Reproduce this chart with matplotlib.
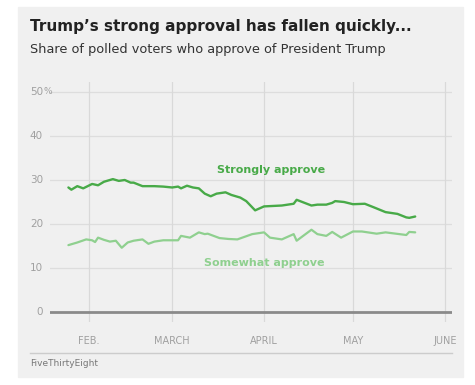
import matplotlib
matplotlib.use("Agg")
import matplotlib.pyplot as plt
from matplotlib.patches import Rectangle
import pandas as pd

# strongly approve
strong_dates = ["2018-01-25", "2018-01-26", "2018-01-28", "2018-01-30", "2018-02-02",
                "2018-02-04", "2018-02-06", "2018-02-09", "2018-02-11", "2018-02-13",
                "2018-02-15", "2018-02-16", "2018-02-19", "2018-02-23", "2018-02-26",
                "2018-03-01", "2018-03-03", "2018-03-04", "2018-03-06", "2018-03-08",
                "2018-03-10", "2018-03-12", "2018-03-14", "2018-03-16", "2018-03-19",
                "2018-03-21", "2018-03-24", "2018-03-26", "2018-03-29", "2018-04-01",
                "2018-04-07", "2018-04-11", "2018-04-12", "2018-04-17", "2018-04-19",
                "2018-04-22", "2018-04-24", "2018-04-25", "2018-04-28", "2018-05-01",
                "2018-05-05", "2018-05-08", "2018-05-12", "2018-05-16", "2018-05-19",
                "2018-05-20", "2018-05-22"]
strong_vals = [28.3, 27.8, 28.6, 28.1, 29.1,
               28.8, 29.6, 30.2, 29.8, 30.0,
               29.4, 29.4, 28.6, 28.6, 28.5,
               28.3, 28.5, 28.1, 28.7, 28.3,
               28.1, 26.9, 26.3, 26.9, 27.2,
               26.6, 26.0, 25.2, 23.1, 24.0,
               24.2, 24.6, 25.5, 24.2, 24.4,
               24.4, 24.8, 25.2, 25.0, 24.5,
               24.6, 23.8, 22.7, 22.3, 21.5,
               21.4, 21.7]

# somewhat approve
some_dates = ["2018-01-25", "2018-01-28", "2018-01-31", "2018-02-02", "2018-02-03",
              "2018-02-04", "2018-02-06", "2018-02-08", "2018-02-10", "2018-02-12",
              "2018-02-14", "2018-02-16", "2018-02-19", "2018-02-21", "2018-02-23",
              "2018-02-26", "2018-03-01", "2018-03-03", "2018-03-04", "2018-03-07",
              "2018-03-10", "2018-03-12", "2018-03-13", "2018-03-17", "2018-03-20",
              "2018-03-23", "2018-03-28", "2018-04-01", "2018-04-03", "2018-04-07",
              "2018-04-11", "2018-04-12", "2018-04-17", "2018-04-19", "2018-04-22",
              "2018-04-24", "2018-04-27", "2018-05-01", "2018-05-04", "2018-05-09",
              "2018-05-12", "2018-05-19", "2018-05-20", "2018-05-22"]
some_vals = [15.2, 15.8, 16.5, 16.3, 15.9,
             16.9, 16.4, 16.0, 16.2, 14.6,
             15.8, 16.2, 16.5, 15.5, 16.0,
             16.3, 16.3, 16.3, 17.3, 16.9,
             18.1, 17.7, 17.8, 16.8, 16.6,
             16.5, 17.7, 18.1, 16.9, 16.5,
             17.7, 16.2, 18.7, 17.7, 17.3,
             18.2, 16.9, 18.3, 18.3, 17.8,
             18.1, 17.5, 18.2, 18.1]

yticks = [0, 10, 20, 30, 40, 50]
month_ticks = ["2018-02-01", "2018-03-01", "2018-04-01", "2018-05-01", "2018-06-01"]
month_labels = ["FEB.", "MARCH", "APRIL", "MAY", "JUNE"]

strong_col = "#48aa48"
some_col = "#8fd08f"
bg = "#f0f0f0"

W, H = 475, 385
fig = plt.figure(figsize=(W / 100, H / 100), dpi=100)
fig.patch.set_facecolor("white")
card = Rectangle((18 / W, 1 - 377 / H), 445 / W, 370 / H,
                 transform=fig.transFigure, color=bg, zorder=-10)
fig.patches.append(card)

ax = fig.add_axes([50 / W, 1 - 322 / H, 402 / W, 240 / H])
ax.patch.set_alpha(0)

sd = pd.to_datetime(strong_dates)
wd = pd.to_datetime(some_dates)
ax.plot(sd, strong_vals, color=strong_col, lw=1.7, solid_capstyle="round", zorder=3)
ax.plot(wd, some_vals, color=some_col, lw=1.6, solid_capstyle="round", zorder=3)

ax.set_ylim(-2.27, 52.27)
ax.set_xlim(pd.Timestamp("2018-01-18 19:00"), pd.Timestamp("2018-06-03 10:00"))

for s in ax.spines.values():
    s.set_visible(False)
ax.tick_params(length=0, labelleft=False, labelbottom=False)

# horizontal grid
for v in yticks:
    if v == 0:
        ax.axhline(v, color="#8a8a8a", lw=2, zorder=2)
    else:
        ax.axhline(v, color="#dddddd", lw=0.9, zorder=1)
    ax.text(-7 / 402, v, str(v), transform=ax.get_yaxis_transform(),
            ha="right", va="center", fontsize=7.5, color="#a0a0a0")
ax.text(-7 / 402, 50, "%", transform=ax.get_yaxis_transform(),
        ha="left", va="center", fontsize=6.5, color="#a0a0a0")

# vertical month lines and labels
for d, lab in zip(pd.to_datetime(month_ticks), month_labels):
    ax.axvline(d, color="#d9d9d9", lw=0.9, zorder=1)
    ax.text(d, -0.06, lab, transform=ax.get_xaxis_transform(),
            ha="center", va="top", fontsize=7, color="#a0a0a0")

ax.text(pd.Timestamp("2018-04-03 12:00"), 32.3, "Strongly approve", color=strong_col,
        fontsize=8, fontweight="bold", ha="center", va="center")
ax.text(pd.Timestamp("2018-04-01"), 11.1, "Somewhat approve", color=some_col,
        fontsize=8, fontweight="bold", ha="center", va="center")

fig.text(30 / W, 1 - 27 / H, "Trump\u2019s strong approval has fallen quickly...",
         fontsize=11, fontweight="bold", color="#222222", ha="left", va="center")
fig.text(30 / W, 1 - 50 / H, "Share of polled voters who approve of President Trump",
         fontsize=9.3, color="#333333", ha="left", va="center")

fig.lines.append(plt.Line2D([30 / W, 452 / W], [1 - 353 / H, 1 - 353 / H],
                            transform=fig.transFigure, color="#cccccc", lw=1))
fig.text(30 / W, 1 - 364 / H, "FiveThirtyEight", fontsize=6.5, color="#777777",
         ha="left", va="center")

fig.savefig("out.png", dpi=100, facecolor="white")
